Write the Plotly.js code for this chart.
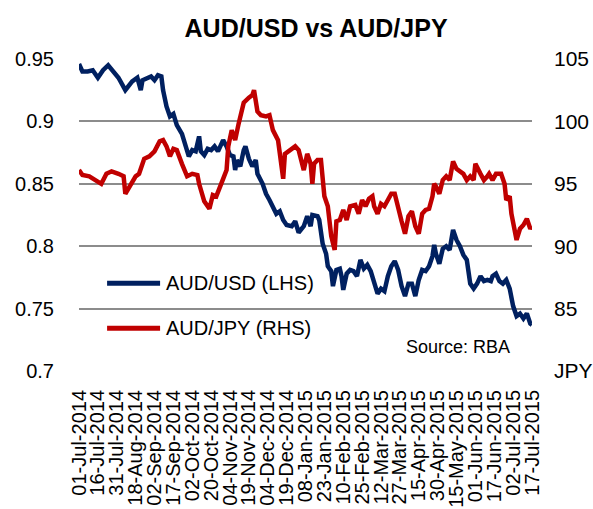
<!DOCTYPE html>
<html>
<head>
<meta charset="utf-8">
<script src="https://cdn.plot.ly/plotly-3.0.1.min.js"></script>
<style>html,body{margin:0;padding:0;background:#fff;}#chart{width:593px;height:509px;}</style>
</head>
<body>
<div id="chart"></div>
<script>
// Tick labels (every 11 trading days)
const tickLabels = ["01-Jul-2014","16-Jul-2014","31-Jul-2014","18-Aug-2014","02-Sep-2014","17-Sep-2014","02-Oct-2014","20-Oct-2014","04-Nov-2014","19-Nov-2014","04-Dec-2014","19-Dec-2014","08-Jan-2015","23-Jan-2015","10-Feb-2015","25-Feb-2015","12-Mar-2015","27-Mar-2015","15-Apr-2015","30-Apr-2015","15-May-2015","01-Jun-2015","17-Jun-2015","02-Jul-2015","17-Jul-2015"];

// AUD/USD (LHS): trading-day index and value
const usdDay = [0,2,5,8,11,14,17,20,23,27,29,31,34,36,37,40,42,44,46,48,49,51,53,55,57,60,62,64,66,68,70,71,73,75,77,79,81,83,84,86,88,90,91,92,94,96,97,99,101,103,104,107,109,111,113,115,117,119,121,124,126,128,131,133,135,136,139,140,142,144,145,147,148,150,152,153,154,156,158,160,162,164,166,168,170,172,174,176,178,180,182,184,186,188,190,192,194,196,198,200,202,204,206,207,208,210,212,214,216,218,220,222,224,226,228,230,232,234,236,238,240,241,243,245,247,249,251,253,255,257,259,261,263,264];
const usdVal = [0.946,0.940,0.940,0.941,0.935,0.941,0.945,0.940,0.935,0.925,0.928,0.932,0.935,0.925,0.933,0.935,0.936,0.933,0.937,0.936,0.925,0.912,0.904,0.906,0.897,0.890,0.882,0.872,0.877,0.876,0.888,0.876,0.873,0.878,0.877,0.880,0.876,0.882,0.885,0.880,0.873,0.872,0.861,0.869,0.864,0.877,0.880,0.870,0.864,0.869,0.858,0.850,0.842,0.837,0.832,0.826,0.828,0.821,0.817,0.816,0.820,0.811,0.816,0.824,0.816,0.825,0.824,0.821,0.802,0.794,0.784,0.780,0.768,0.781,0.782,0.776,0.765,0.778,0.781,0.780,0.776,0.789,0.782,0.785,0.780,0.770,0.762,0.766,0.764,0.776,0.784,0.788,0.781,0.768,0.760,0.770,0.770,0.760,0.773,0.781,0.780,0.784,0.792,0.801,0.794,0.786,0.798,0.800,0.797,0.813,0.805,0.800,0.793,0.789,0.770,0.766,0.770,0.776,0.772,0.773,0.772,0.776,0.778,0.772,0.770,0.773,0.766,0.752,0.744,0.746,0.742,0.746,0.738,0.737];

// AUD/JPY (RHS): trading-day index and value
const jpyDay = [0,2,6,10,13,16,19,23,26,27,30,33,35,38,41,44,47,49,51,53,55,57,60,63,66,69,70,72,73,76,78,80,82,84,86,87,89,91,93,96,99,101,102,104,106,109,111,113,116,119,120,123,126,128,131,133,135,136,137,139,141,143,145,147,149,150,152,154,156,158,161,163,165,167,169,171,172,174,176,178,180,182,184,186,188,190,192,194,196,198,200,202,204,206,207,208,210,212,214,216,218,220,222,224,226,228,230,231,234,236,238,239,241,243,246,248,249,251,252,253,255,257,259,261,263,264];
const jpyVal = [96.1,95.7,95.6,95.3,95.0,95.8,96.0,95.8,95.6,94.2,94.9,95.6,95.8,97.0,97.2,97.6,98.4,98.5,98.0,97.2,97.8,97.7,96.6,95.6,95.8,95.7,95.0,94.0,93.6,93.0,94.1,94.0,94.8,95.4,96.1,98.0,99.3,98.5,99.8,101.5,101.9,102.1,102.5,100.8,100.5,100.4,100.5,99.3,98.5,95.4,97.4,97.7,98.0,97.7,96.1,97.4,96.6,95.0,96.6,96.9,96.9,94.0,93.2,90.8,89.7,92.0,92.1,92.9,92.1,93.2,93.3,92.6,93.7,93.2,93.8,94.0,93.2,92.6,93.4,93.2,93.7,94.2,94.2,92.9,92.0,91.0,92.4,92.8,91.6,91.0,92.6,92.9,93.0,94.0,95.0,94.8,94.2,95.3,95.6,95.3,96.8,96.2,96.0,95.8,95.3,95.6,95.3,96.6,95.8,95.3,95.6,95.8,95.3,95.8,95.8,95.0,93.7,94.0,92.6,92.0,90.5,91.4,91.7,92.2,91.4,91.6];

const leftTicks = [0.7,0.75,0.8,0.85,0.9,0.95];
const leftTickText = ["0.7","0.75","0.8","0.85","0.9","0.95"];
const rightTicks = [80,85,90,95,100,105];
const rightTickText = ["JPY","85","90","95","100","105"];

const seriesNames = ["AUD/USD (LHS)","AUD/JPY (RHS)"];
const colors = ["#002060","#C00000"];

const FONT = "Liberation Sans, Arial, sans-serif";
const lastDay = usdDay[usdDay.length-1];
const tickStep = lastDay / (tickLabels.length - 1);

const traces = [
  {x: usdDay, y: usdVal, name: seriesNames[0], type: "scatter", mode: "lines",
   line: {color: colors[0], width: 4.5}, yaxis: "y", showlegend: false},
  {x: jpyDay, y: jpyVal, name: seriesNames[1], type: "scatter", mode: "lines",
   line: {color: colors[1], width: 4.5}, yaxis: "y2", showlegend: false}
];

const legY = [0.281, 0.137];
const shapes = [];
const annotations = [];
for (let i = 0; i < 2; i++) {
  shapes.push({type: "line", xref: "paper", yref: "paper", x0: 0.062, x1: 0.179, y0: legY[i], y1: legY[i],
    line: {color: colors[i], width: 5}});
  annotations.push({xref: "paper", yref: "paper", x: 0.188, y: legY[i], xanchor: "left", yanchor: "middle",
    text: seriesNames[i], showarrow: false, font: {family: FONT, size: 20, color: "#000"}});
}
annotations.push({xref: "paper", yref: "paper", x: 0.955, y: 0.078, xanchor: "right", yanchor: "middle",
  text: "Source: RBA", showarrow: false, font: {family: FONT, size: 18, color: "#000"}});

const layout = {
  width: 593, height: 509,
  margin: {l: 79, r: 61, t: 59, b: 138, pad: 0},
  paper_bgcolor: "#fff", plot_bgcolor: "#fff",
  font: {family: FONT, color: "#000"},
  title: {text: "AUD/USD vs AUD/JPY", font: {family: FONT, size: 25, weight: "bold", color: "#000"},
    x: 0.533, xanchor: "center", y: 0.945, yanchor: "middle", xref: "container", yref: "container"},
  xaxis: {range: [0, lastDay], tickmode: "array",
    tickvals: tickLabels.map((_, i) => i * tickStep), ticktext: tickLabels,
    tickangle: -90, tickfont: {family: FONT, size: 20, color: "#000"},
    showgrid: false, zeroline: false, showline: false, ticks: "", ticklabelstandoff: 14, fixedrange: true},
  yaxis: {range: [0.7, 0.95], tickmode: "array", tickvals: leftTicks, ticktext: leftTickText,
    tickfont: {family: FONT, size: 20, color: "#000"}, showgrid: true, gridcolor: "#8c8c8c", gridwidth: 2,
    zeroline: false, showline: false, ticks: "", ticklabelstandoff: 24},
  yaxis2: {range: [80, 105], overlaying: "y", side: "right", tickmode: "array", tickvals: rightTicks,
    ticktext: rightTickText, tickfont: {family: FONT, size: 21, color: "#000"}, showgrid: false,
    zeroline: false, showline: false, ticks: "", ticklabelstandoff: 21},
  shapes: shapes,
  annotations: annotations,
  showlegend: false
};

Plotly.newPlot("chart", traces, layout, {staticPlot: true, displayModeBar: false});
</script>
</body>
</html>
